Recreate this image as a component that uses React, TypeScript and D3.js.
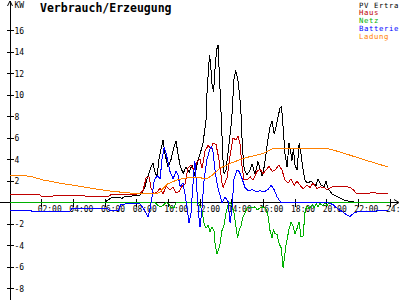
import React from "react";
import * as d3 from "d3";

// ---- data ----
const hourTicks = [2, 4, 6, 8, 10, 12, 14, 16, 18, 20, 22, 24];
const hourLabels = ["02:00", "04:00", "06:00", "08:00", "10:00", "12:00", "14:00", "16:00", "18:00", "20:00", "22:00", "24:00"];
const kwTicks = [-8, -6, -4, -2, 2, 4, 6, 8, 10, 12, 14, 16];
const kwLabels = ["-8", "-6", "-4", "-2", "2", "4", "6", "8", "10", "12", "14", "16"];
const seriesNames = ["PV Ertra", "Haus", "Netz", "Batterie", "Ladung"];
const seriesColors = ["#000000", "#c00000", "#00b000", "#0000ff", "#ff8000"];
const titleText = "Verbrauch/Erzeugung";
const unitText = "KW";

const pvErtrag: [number, number][] = [
  [0, 0], [6.0, 0], [6.13, 0.2], [6.44, 0.45], [6.82, 0.5], [7.08, 0.4], [7.33, 0.6], [7.58, 0.55], [7.9, 0.7],
  [8.15, 0.65], [8.34, 0.85], [8.53, 1.5], [8.72, 2.5], [8.9, 3.3], [9.03, 3.7], [9.16, 2.8], [9.29, 2.4],
  [9.41, 4.0], [9.54, 5.0], [9.67, 5.8], [9.79, 4.5], [9.98, 3.3], [10.17, 4.0], [10.36, 5.2], [10.49, 5.7],
  [10.61, 4.5], [10.74, 3.5], [10.93, 2.7], [11.12, 3.3], [11.31, 2.8], [11.5, 3.5], [11.68, 2.5], [11.88, 4.0],
  [12.0, 4.5], [12.19, 5.5], [12.38, 7.7], [12.45, 10.5], [12.6, 13.7], [12.66, 13.0], [12.76, 11.0], [12.86, 10.3],
  [12.95, 12.5], [13.05, 14.2], [13.14, 14.65], [13.25, 11.0], [13.35, 7.7], [13.45, 4.0], [13.52, 2.7],
  [13.64, 3.0], [13.84, 5.5], [14.0, 7.7], [14.15, 11.5], [14.25, 12.3], [14.39, 11.4], [14.49, 10.2], [14.58, 8.6],
  [14.68, 5.0], [14.8, 3.0], [14.97, 2.6], [15.16, 3.0], [15.29, 3.6], [15.48, 2.6], [15.66, 3.8], [15.92, 2.5],
  [16.05, 3.3], [16.17, 4.5], [16.3, 6.0], [16.42, 7.0], [16.55, 7.6], [16.68, 6.4], [16.8, 7.0], [16.93, 8.0],
  [17.06, 8.8], [17.15, 8.9], [17.25, 7.0], [17.37, 4.5], [17.5, 3.3], [17.62, 5.5], [17.75, 4.5], [17.81, 3.9],
  [17.9, 5.0], [18.0, 3.5], [18.13, 3.0], [18.26, 5.5], [18.38, 4.5], [18.48, 3.3], [18.64, 2.0], [18.83, 1.8],
  [19.01, 2.0], [19.2, 1.7], [19.33, 1.6], [19.46, 2.2], [19.65, 1.6], [19.84, 1.5], [19.96, 2.0], [20.09, 1.3],
  [20.34, 0.8], [20.72, 0.5], [21.16, 0.2], [21.67, 0.05], [21.98, 0], [24, 0],
];

const haus: [number, number][] = [
  [0, 0.7], [1.9, 0.7], [2.0, 0.55], [2.65, 0.55], [2.75, 0.65], [4.7, 0.65], [4.8, 0.55], [6.2, 0.55], [6.35, 0.7],
  [7.3, 0.75], [8.2, 0.8], [8.4, 1.1], [8.6, 2.3], [8.78, 2.4], [8.9, 1.4], [9.1, 0.8], [9.29, 1.0], [9.48, 1.3],
  [9.67, 0.8], [9.85, 1.5], [10.1, 1.2], [10.3, 1.4], [10.49, 0.9], [10.68, 1.0], [10.87, 1.5], [11.05, 1.7],
  [11.24, 3.2], [11.43, 3.5], [11.62, 3.0], [11.81, 3.8], [12.0, 4.0], [12.13, 3.2], [12.32, 4.8], [12.51, 5.3],
  [12.7, 5.0], [12.82, 5.5], [13.01, 5.4], [13.2, 4.0], [13.39, 1.8], [13.46, 1.4], [13.71, 2.3], [13.9, 4.4],
  [14.09, 6.0], [14.28, 5.8], [14.4, 6.2], [14.53, 5.4], [14.66, 3.3], [14.78, 2.1], [14.97, 2.1], [15.16, 2.4],
  [15.35, 2.1], [15.6, 2.9], [15.79, 3.1], [15.98, 2.7], [16.23, 3.1], [16.36, 3.4], [16.55, 2.9], [16.74, 3.0],
  [16.99, 3.5], [17.18, 3.0], [17.37, 2.1], [17.56, 1.8], [17.75, 2.2], [17.94, 1.6], [18.13, 2.0], [18.32, 1.6],
  [18.51, 1.3], [18.76, 1.6], [18.95, 1.4], [19.14, 1.8], [19.39, 1.3], [19.58, 1.45], [19.84, 1.4], [20.03, 1.2],
  [20.34, 1.45], [21.0, 1.5], [21.29, 1.45], [21.48, 1.4], [21.7, 1.15], [21.9, 0.8], [22.6, 0.8], [22.75, 0.9],
  [23.85, 0.85],
];

const netz: [number, number][] = [
  [0, 0], [9.16, 0], [9.35, -0.3], [9.54, -0.4], [9.73, -0.2], [9.85, 0], [10.04, -0.1], [10.17, -0.5], [10.36, -0.5],
  [10.49, 0], [11.88, 0], [12.0, -0.3], [12.13, -0.8], [12.25, -1.9], [12.38, -2.4], [12.51, -2.1], [12.63, -2.7],
  [12.76, -2.3], [12.89, -2.7], [12.95, -3.8], [13.07, -4.8], [13.17, -4.4], [13.27, -3.8], [13.39, -2.6],
  [13.52, -2.1], [13.64, -1.0], [13.77, -0.2], [13.9, 0], [14.02, -0.3], [14.15, -1.0], [14.28, -2.3], [14.37, -3.3],
  [14.47, -2.6], [14.59, -2.2], [14.72, -1.3], [14.84, -1.0], [14.97, -0.5], [15.29, -0.5], [15.48, -0.4],
  [15.6, -0.7], [15.79, -0.5], [15.98, -0.4], [16.17, -0.6], [16.3, -1.3], [16.42, -2.6], [16.55, -3.3],
  [16.64, -2.5], [16.74, -2.9], [16.87, -3.0], [16.99, -3.8], [17.12, -4.2], [17.18, -5.0], [17.25, -6.1],
  [17.34, -5.0], [17.43, -4.0], [17.53, -3.2], [17.62, -2.5], [17.75, -1.8], [17.88, -2.2], [18.0, -2.9],
  [18.13, -2.4], [18.26, -1.8], [18.38, -3.2], [18.51, -3.1], [18.64, -0.8], [18.76, -0.3], [18.89, -0.6],
  [19.08, -0.2], [19.2, -0.5], [19.33, -0.1], [19.46, -0.4], [19.58, -0.1], [19.77, -0.3], [19.9, 0], [20.03, -0.3],
  [20.15, 0], [24, 0],
];

const batterie: [number, number][] = [
  [0, -0.7], [1.3, -0.7], [1.35, -0.8], [3.8, -0.8], [3.9, -0.6], [6.2, -0.6], [6.3, -0.75], [6.85, -0.7],
  [7.0, -0.2], [7.4, -0.1], [8.0, -0.05], [8.2, -0.1], [8.4, -0.5], [8.6, -1.0], [8.72, -1.3], [8.84, -0.6],
  [8.97, 0.5], [9.1, 2.0], [9.29, 2.5], [9.48, 2.2], [9.6, 4.0], [9.73, 5.1], [9.85, 4.6], [9.98, 3.8], [10.1, 2.9],
  [10.3, 2.2], [10.49, 2.9], [10.61, 2.6], [10.74, 1.5], [10.93, 1.8], [11.05, 0.8], [11.18, -0.5], [11.31, -1.9],
  [11.43, -1.0], [11.62, 3.0], [11.68, 3.8], [11.81, 1.0], [11.94, -1.5], [12.0, -2.3], [12.13, -0.5], [12.25, 2.0],
  [12.44, 4.0], [12.63, 5.0], [12.73, 5.2], [12.82, 4.7], [12.95, 3.0], [13.07, 1.8], [13.2, 1.0], [13.39, 0.0],
  [13.58, 0.5], [13.77, 0.1], [13.9, -1.9], [14.02, -0.5], [14.15, 2.2], [14.34, 3.0], [14.47, 2.9], [14.66, 2.2],
  [14.84, 1.4], [15.03, 1.1], [15.3, 1.2], [15.55, 1.0], [15.8, 1.1], [16.05, 1.0], [16.3, 1.2], [16.49, 1.6],
  [16.68, 1.2], [16.87, 0.5], [17.12, 0.0], [20.09, 0.0], [20.4, -0.2], [20.7, -0.6], [21.0, -0.85], [21.3, -1.2],
  [21.48, -1.3], [21.7, -1.0], [22.0, -0.85], [23.0, -0.85], [23.3, -0.7], [23.88, -0.7],
];

const ladung: [number, number][] = [
  [0, 2.55], [1.26, 2.45], [2.08, 2.1], [3.16, 1.8], [4.23, 1.55], [5.24, 1.3], [6.32, 1.07], [7.39, 0.9], [8.4, 0.8],
  [9.29, 0.8], [9.48, 1.0], [9.92, 1.7], [10.55, 2.1], [11.18, 2.3], [12.0, 2.3], [12.44, 2.2], [12.82, 2.6],
  [13.27, 3.2], [14.09, 3.75], [14.97, 4.2], [15.98, 4.55], [16.6, 5.0], [20.1, 5.0], [20.85, 4.7], [21.48, 4.4],
  [22.1, 4.1], [23.88, 3.3],
];

const seriesData = [pvErtrag, haus, netz, batterie, ladung];

export default function App() {
  const W = 400;
  const H = 300;
  const x = d3.scaleLinear().domain([0, 24]).range([10, 390]);
  const y = d3.scaleLinear().domain([-8, 16]).range([288.5, 30.5]);
  const line = d3
    .line<[number, number]>()
    .x((d) => x(d[0]))
    .y((d) => y(d[1]));
  const x0 = x(0);
  const y0 = y(0);
  const mono = "'DejaVu Sans Mono', 'Liberation Mono', monospace";

  return (
    <svg
      width={W}
      height={H}
      viewBox={`0 0 ${W} ${H}`}
      style={{ position: "absolute", left: 0, top: 0, display: "block", background: "#ffffff" }}
    >
      <rect x={0} y={0} width={W} height={H} fill="#ffffff" />
      {/* axes */}
      <g stroke="#000" strokeWidth={1} shapeRendering="crispEdges" fill="none">
        <line x1={0} x2={398} y1={y0} y2={y0} />
        <line x1={x0} x2={x0} y1={1} y2={300} />
        {kwTicks.map((t) => (
          <line key={"yt" + t} x1={x0 - 3.5} x2={x0 + 3.5} y1={y(t)} y2={y(t)} />
        ))}
        {hourTicks.map((t) => (
          <line key={"xt" + t} x1={x(t)} x2={x(t)} y1={y0 - 4} y2={y0 + 4} />
        ))}
      </g>
      <g stroke="#000" strokeWidth={1} fill="none">
        <polyline points={`${x0 - 2.5},${6} ${x0},${1} ${x0 + 2.5},${6}`} />
        <polyline points={`${394},${y0 - 3} ${399},${y0} ${394},${y0 + 3}`} />
      </g>
      {/* tick labels */}
      <g fontFamily={mono} fontSize={8} fill="#000">
        {kwTicks.map((t, i) => (
          <text key={"yl" + t} x={x0 + 4.5} y={y(t) + 3}>
            {kwLabels[i]}
          </text>
        ))}
        {hourTicks.map((t, i) => (
          <text key={"xl" + t} x={x(t) - 4} y={y0 + 9.5}>
            {hourLabels[i]}
          </text>
        ))}
        <text x={x0 + 4.5} y={7.5}>
          {unitText}
        </text>
      </g>
      {/* series */}
      <g fill="none" strokeWidth={1} shapeRendering="crispEdges" strokeLinejoin="round">
        {seriesData.map((s, i) => (
          <path key={"s" + i} d={line(s) || ""} stroke={seriesColors[i]} />
        ))}
      </g>
      {/* title */}
      <text x={40} y={11.5} fontFamily={mono} fontWeight="bold" fontSize={11.5} fill="#000">
        {titleText}
      </text>
      {/* legend */}
      <g fontFamily={mono} fontSize={7.3} letterSpacing={0.6}>
        {seriesNames.map((n, i) => (
          <text key={"lg" + i} x={359} y={7.5 + i * 7.8} fill={seriesColors[i]}>
            {n}
          </text>
        ))}
      </g>
    </svg>
  );
}
